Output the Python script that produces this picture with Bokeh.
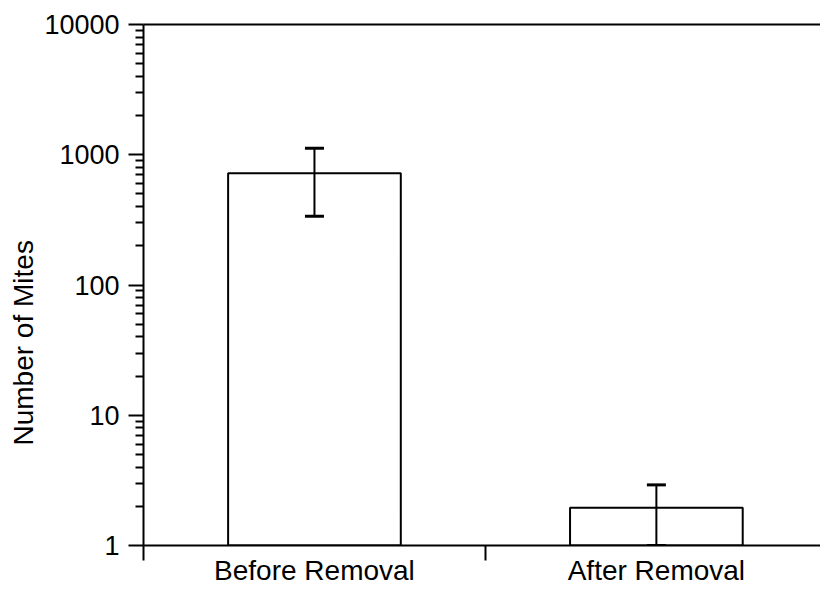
from bokeh.plotting import figure
from bokeh.models import (ColumnDataSource, Range1d, FixedTicker, Whisker,
                          TeeHead, LinearAxis, Title)
from bokeh.embed import file_html
from bokeh.resources import INLINE

# ---- data ----
categories = ["Before Removal", "After Removal"]
cat_pos = [0.5, 1.5]
mites = [720, 1.95]
err_upper = [1120, 2.92]
err_lower = [337, 1.0]
y_tick_values = [1, 10, 100, 1000, 10000]
y_tick_labels = ["1", "10", "100", "1000", "10000"]
y_minor_ticks = [m * d for d in [1, 10, 100, 1000] for m in range(2, 10)]
x_boundaries = [0, 1, 2]

FONT = "Liberation Sans"

p = figure(width=820, height=588, y_axis_type="log",
           x_range=Range1d(0, 1.98), y_range=Range1d(1, 10000),
           output_backend="svg", toolbar_location=None,
           min_border_left=143, min_border_top=24, min_border_right=0,
           min_border_bottom=0)
p.outline_line_color = None
p.xgrid.visible = False
p.ygrid.visible = False
p.background_fill_color = "white"
p.border_fill_color = "white"

src = ColumnDataSource(dict(x=cat_pos, top=mites, upper=err_upper, lower=err_lower))
p.vbar(x="x", top="top", bottom=1, width=0.505, source=src,
       fill_color="white", line_color="black", line_width=2)

w = Whisker(source=src, base="x", upper="upper", lower="lower", level="overlay",
            line_color="black", line_width=2,
            upper_head=TeeHead(size=19, line_color="black", line_width=3),
            lower_head=TeeHead(size=19, line_color="black", line_width=3))
p.add_layout(w)

# x axis (bottom)
xa = p.below[0]
xa.ticker = FixedTicker(ticks=cat_pos, minor_ticks=x_boundaries)
xa.major_label_overrides = {v: s for v, s in zip(cat_pos, categories)}
xa.axis_line_width = 2
xa.major_tick_out = 0
xa.major_tick_in = 0
xa.minor_tick_out = 15
xa.minor_tick_in = 0
xa.minor_tick_line_width = 2
xa.major_label_standoff = -6
xa.major_label_text_font = FONT
xa.major_label_text_font_size = "28px"
xa.major_label_text_color = "black"

# top frame line as a bare axis
top_axis = LinearAxis(axis_line_width=2, axis_line_color="black",
                      ticker=FixedTicker(ticks=[]),
                      major_tick_line_color=None, minor_tick_line_color=None,
                      major_label_text_font_size="0px", major_label_standoff=0,
                      major_tick_out=0, minor_tick_out=0)
p.add_layout(top_axis, "above")

# y axis
ya = p.left[0]
ya.ticker = FixedTicker(ticks=y_tick_values, minor_ticks=y_minor_ticks)
ya.major_label_overrides = {v: s for v, s in zip(y_tick_values, y_tick_labels)}
ya.axis_line_width = 2
ya.major_tick_line_width = 2
ya.minor_tick_line_width = 2
ya.major_tick_out = 15
ya.major_tick_in = 0
ya.minor_tick_out = 8
ya.minor_tick_in = 0
ya.major_label_standoff = 9
ya.major_label_text_font = FONT
ya.major_label_text_font_size = "27px"
ya.major_label_text_color = "black"

# y title, placed in the left panel beyond the axis
p.add_layout(Title(text="Number of Mites", align="left", offset=100,
                   text_font=FONT, text_font_size="28px", text_font_style="normal",
                   text_color="black", standoff=6), "left")

open("out.html", "w").write(file_html(p, INLINE))
